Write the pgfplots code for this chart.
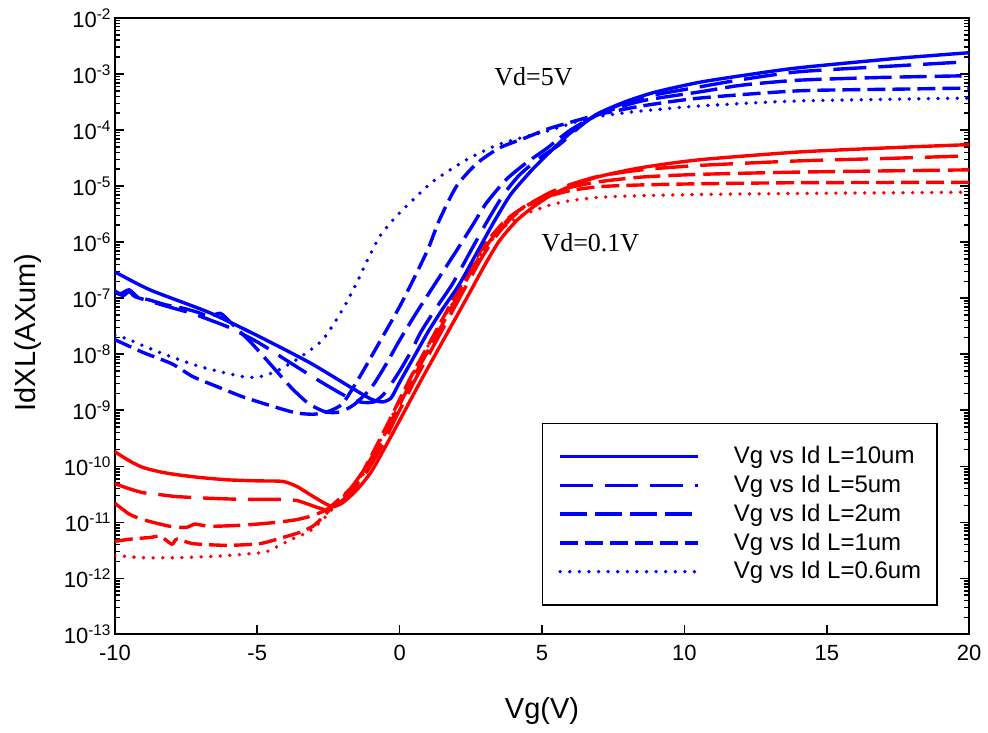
\documentclass[border=0pt]{standalone}
\usepackage{fontspec}
\setmainfont{Liberation Sans}
\newfontfamily\annotfont{Liberation Serif}
\usepackage{pgfplots}
\pgfplotsset{compat=1.18}

% line styles for the five channel lengths
\pgfplotsset{
  Lten/.style={line width=1.7pt},
  Lfive/.style={line width=1.7pt, dash pattern=on 16.5pt off 6pt},
  Ltwo/.style={line width=1.7pt, dash pattern=on 13.5pt off 4pt},
  Lone/.style={line width=1.7pt, dash pattern=on 9pt off 3.5pt},
  Lsix/.style={line width=1.9pt, line cap=round, dash pattern=on 0pt off 4.8pt},
}

\begin{document}
\begin{tikzpicture}
% page frame around the axis
\path (-57.5pt,-49pt) rectangle (436.5pt,317.5pt);
\begin{axis}[
  at={(0pt,0pt)}, anchor=south west,
  width=427.5pt, height=308.5pt, scale only axis,
  xmin=-10, xmax=20, ymin=1e-13, ymax=1e-2,
  ymode=log, log basis y=10,
  xtick={-10,-5,0,5,10,15,20},
  ytick={1e-13,1e-12,1e-11,1e-10,1e-9,1e-8,1e-7,1e-6,1e-5,1e-4,1e-3,1e-2},
  minor ytick={
    2e-13,3e-13,4e-13,5e-13,6e-13,7e-13,8e-13,9e-13,
    2e-12,3e-12,4e-12,5e-12,6e-12,7e-12,8e-12,9e-12,
    2e-11,3e-11,4e-11,5e-11,6e-11,7e-11,8e-11,9e-11,
    2e-10,3e-10,4e-10,5e-10,6e-10,7e-10,8e-10,9e-10,
    2e-9,3e-9,4e-9,5e-9,6e-9,7e-9,8e-9,9e-9,
    2e-8,3e-8,4e-8,5e-8,6e-8,7e-8,8e-8,9e-8,
    2e-7,3e-7,4e-7,5e-7,6e-7,7e-7,8e-7,9e-7,
    2e-6,3e-6,4e-6,5e-6,6e-6,7e-6,8e-6,9e-6,
    2e-5,3e-5,4e-5,5e-5,6e-5,7e-5,8e-5,9e-5,
    2e-4,3e-4,4e-4,5e-4,6e-4,7e-4,8e-4,9e-4,
    2e-3,3e-3,4e-3,5e-3,6e-3,7e-3,8e-3,9e-3},
  yticklabels={10\textsuperscript{-13},10\textsuperscript{-12},10\textsuperscript{-11},
    10\textsuperscript{-10},10\textsuperscript{-9},10\textsuperscript{-8},10\textsuperscript{-7},
    10\textsuperscript{-6},10\textsuperscript{-5},10\textsuperscript{-4},10\textsuperscript{-3},
    10\textsuperscript{-2}},
  xtick pos=bottom, ytick pos=both,
  tick align=inside,
  major tick length=4.5pt, minor tick length=2.8pt,
  tick style={draw=black, line width=0.8pt},
  axis line style={line width=1pt},
  /pgf/number format/assume math mode=true,
  xticklabel style={font=\fontsize{11}{13}\selectfont, yshift=-2pt},
  yticklabel style={font=\fontsize{11}{13}\selectfont, inner xsep=1.5pt},
  xlabel={Vg(V)}, ylabel={IdXL(AXum)},
  label style={font=\fontsize{14.5}{17}\selectfont},
  xlabel style={at={(axis description cs:0.5,-0.125)}, anchor=center},
  ylabel style={at={(axis description cs:-0.102,0.49)}, anchor=center},
  legend image code/.code={\draw[#1] (0pt,0pt) -- (69pt,0pt);},
  legend cell align=left,
  legend style={at={(axis description cs:0.4994,0.3436)}, anchor=north west,
    draw=black, line width=0.8pt, font=\fontsize{12}{14}\selectfont,
    inner xsep=8pt, inner ysep=11.5pt, row sep=4.2pt,
    nodes={inner sep=0pt},
    /tikz/every odd column/.style={column sep=17pt}},
]

% ---- Vd = 0.1 V ----
\addplot[red, Lten, smooth, tension=0.4, forget plot] coordinates {
(-10,1.82e-10) (-9.5,1.26e-10) (-9.02,9.55e-11) (-8.4,7.94e-11) (-7.82,7.08e-11)
(-7.0,6.31e-11) (-6.07,5.75e-11) (-5.0,5.50e-11) (-4.1,5.37e-11) (-3.61,4.37e-11)
(-3.16,3.16e-11) (-2.7,2.29e-11) (-2.35,1.91e-11) (-2.0,2.24e-11) (-1.5,3.80e-11)
(-1.0,7.94e-11) (-0.5,2.24e-10) (0,6.61e-10) (0.77,3.55e-9) (1.5,1.66e-8)
(2.3,8.91e-8) (3.0,3.98e-7) (3.5,1.05e-6) (4.1,2.40e-6) (4.67,4.17e-6)
(5.26,6.61e-6) (6.0,1.00e-5) (7.0,1.48e-5) (8.5,2.14e-5) (10.53,2.95e-5)
(14.04,4.07e-5) (17.5,4.90e-5) (20,5.50e-5)};

\addplot[red, Lfive, smooth, tension=0.4, forget plot] coordinates {
(-10,4.90e-11) (-9.5,3.98e-11) (-9.02,3.39e-11) (-8.5,3.16e-11) (-7.82,2.88e-11)
(-6.67,2.69e-11) (-5.51,2.57e-11) (-4.32,2.57e-11) (-3.61,2.45e-11) (-2.91,1.86e-11)
(-2.5,1.66e-11) (-2.1,2.24e-11) (-1.6,3.98e-11) (-1.1,8.91e-11) (-0.6,2.40e-10)
(-0.2,6.31e-10) (0.55,3.55e-9) (1.3,1.78e-8) (2.1,1.00e-7) (2.8,4.47e-7)
(3.3,1.12e-6) (3.9,2.63e-6) (4.5,4.57e-6) (5.26,7.59e-6) (6.0,1.07e-5)
(7.02,1.51e-5) (8.5,1.95e-5) (10.53,2.34e-5) (14.04,2.82e-5) (17.5,3.16e-5)
(20,3.47e-5)};

\addplot[red, Ltwo, smooth, tension=0.4, forget plot] coordinates {
(-10,2.19e-11) (-9.5,1.41e-11) (-9.02,1.12e-11) (-8.07,8.51e-12) (-7.47,8.13e-12)
(-7.2,9.33e-12) (-6.67,8.51e-12) (-5.51,8.91e-12) (-4.32,1.00e-11) (-3.61,1.12e-11)
(-3.05,1.32e-11) (-2.56,1.70e-11) (-2.2,2.40e-11) (-1.7,4.17e-11) (-1.2,9.55e-11)
(-0.7,2.51e-10) (-0.3,6.31e-10) (0.45,3.55e-9) (1.2,1.78e-8) (2.0,1.00e-7)
(2.7,4.47e-7) (3.2,1.10e-6) (3.8,2.51e-6) (4.4,4.37e-6) (5.26,7.24e-6)
(6.0,9.55e-6) (7.02,1.20e-5) (8.5,1.45e-5) (10.53,1.62e-5) (14.04,1.78e-5)
(20,1.95e-5)};

\addplot[red, Lone, smooth, tension=0.4, forget plot] coordinates {
(-10,4.57e-12) (-9.47,5.01e-12) (-8.77,5.37e-12) (-8.4,5.62e-12) (-8.0,4.07e-12)
(-7.82,5.01e-12) (-7.26,4.17e-12) (-6.07,3.89e-12) (-4.91,4.17e-12) (-4.1,5.37e-12)
(-3.51,6.61e-12) (-3.05,8.51e-12) (-2.7,1.23e-11) (-2.4,1.82e-11) (-2.0,2.82e-11)
(-1.5,5.25e-11) (-0.9,1.91e-10) (-0.4,6.03e-10) (0.35,3.55e-9) (1.1,1.78e-8)
(1.9,1.00e-7) (2.6,4.47e-7) (3.1,1.07e-6) (3.7,2.40e-6) (4.3,3.98e-6)
(5.26,6.61e-6) (6.0,8.32e-6) (7.0,9.77e-6) (8.5,1.05e-5) (10.5,1.10e-5)
(14,1.15e-5) (20,1.17e-5)};

\addplot[red, Lsix, smooth, tension=0.4, forget plot] coordinates {
(-10,2.57e-12) (-9.02,2.34e-12) (-7.82,2.34e-12) (-6.67,2.45e-12) (-5.51,2.69e-12)
(-4.67,3.02e-12) (-3.79,5.01e-12) (-3.16,6.92e-12) (-2.7,1.12e-11) (-2.21,2.09e-11)
(-1.8,3.31e-11) (-1.4,5.62e-11) (-0.9,1.70e-10) (-0.4,5.62e-10) (0.35,3.55e-9)
(1.1,1.74e-8) (1.9,8.91e-8) (2.6,3.80e-7) (3.1,8.91e-7) (3.7,1.91e-6)
(4.3,3.02e-6) (5.26,4.57e-6) (6.0,5.50e-6) (7.0,6.31e-6) (8.5,6.76e-6)
(10.5,7.08e-6) (14,7.41e-6) (20,7.76e-6)};

% ---- Vd = 5 V ----
\addplot[blue, Lten, smooth, tension=0.4] coordinates {
(-10,2.95e-7) (-8.77,1.41e-7) (-6.67,5.50e-8) (-4.91,2.04e-8) (-3.16,7.08e-9)
(-1.75,2.63e-9) (-1.0,1.58e-9) (-0.6,1.41e-9) (-0.3,1.66e-9) (0,3.16e-9)
(0.5,8.91e-9) (1.0,2.51e-8) (1.5,6.31e-8) (2.1,1.78e-7) (2.7,6.31e-7)
(3.3,2.24e-6) (3.9,7.08e-6) (4.67,2.00e-5) (5.3,4.17e-5) (6.0,8.91e-5)
(7.0,2.00e-4) (8.0,3.31e-4) (9.0,4.79e-4) (10.5,7.08e-4) (12,9.33e-4)
(14,1.29e-3) (17.5,1.91e-3) (20,2.40e-3)};
\addlegendentry{Vg vs Id L=10um}

\addplot[blue, Lfive, smooth, tension=0.4] coordinates {
(-10,1.26e-7) (-9.7,1.12e-7) (-9.5,1.32e-7) (-9.3,1.07e-7) (-8.8,8.91e-8)
(-8.0,6.76e-8) (-7.3,5.37e-8) (-6.6,3.98e-8) (-6.0,3.02e-8) (-5.0,1.66e-8)
(-4.0,7.94e-9) (-3.0,3.80e-9) (-2.0,1.91e-9) (-1.4,1.41e-9) (-0.9,1.41e-9)
(-0.5,2.09e-9) (0,5.01e-9) (0.4,1.12e-8) (0.75,2.51e-8) (1.25,6.31e-8)
(1.85,1.78e-7) (2.45,6.31e-7) (3.05,2.24e-6) (3.65,7.08e-6) (4.21,1.58e-5)
(4.91,3.16e-5) (5.61,5.50e-5) (6.3,1.12e-4) (7.0,2.00e-4) (8.5,3.80e-4)
(10.53,5.89e-4) (12,7.94e-4) (14.04,1.10e-3) (17.54,1.41e-3) (20,1.66e-3)};
\addlegendentry{Vg vs Id L=5um}

\addplot[blue, Ltwo, smooth, tension=0.4] coordinates {
(-10,1.35e-7) (-9.8,1.20e-7) (-9.5,1.41e-7) (-9.2,1.05e-7) (-8.8,9.33e-8)
(-8.2,7.59e-8) (-7.6,6.61e-8) (-7.1,5.62e-8) (-6.7,4.79e-8) (-6.3,5.37e-8)
(-6.0,3.98e-8) (-5.7,2.82e-8) (-5.2,1.58e-8) (-4.5,6.31e-9) (-3.8,2.51e-9)
(-3.2,1.32e-9) (-2.6,9.33e-10) (-2.1,9.33e-10) (-1.6,1.26e-9) (-1.0,2.51e-9)
(-0.5,6.31e-9) (0,1.78e-8) (0.6,5.62e-8) (1.3,2.00e-7) (2.0,7.08e-7)
(2.56,2.00e-6) (3.05,5.01e-6) (3.75,1.32e-5) (4.46,2.63e-5) (5.16,4.68e-5)
(6.0,1.00e-4) (7.0,1.91e-4) (8.5,3.31e-4) (10.53,4.79e-4) (12,6.31e-4)
(14,7.76e-4) (17,8.71e-4) (20,9.33e-4)};
\addlegendentry{Vg vs Id L=2um}

\addplot[blue, Lone, smooth, tension=0.4] coordinates {
(-10,1.82e-8) (-9.0,1.07e-8) (-8.0,6.76e-9) (-7.26,3.98e-9) (-6.4,2.63e-9)
(-5.51,1.74e-9) (-4.32,1.12e-9) (-3.6,8.91e-10) (-3.0,8.51e-10) (-2.5,9.55e-10)
(-2.0,1.32e-9) (-1.4,3.98e-9) (-0.7,1.66e-8) (0,7.08e-8) (0.5,2.24e-7)
(1.0,7.59e-7) (1.4,2.51e-6) (2.0,1.00e-5) (2.7,2.51e-5) (3.5,4.79e-5)
(4.46,7.41e-5) (5.26,1.07e-4) (6.56,1.66e-4) (7.0,1.91e-4) (8.5,2.69e-4)
(10.53,3.72e-4) (14,5.01e-4) (17.5,5.37e-4) (20,5.62e-4)};
\addlegendentry{Vg vs Id L=1um}

\addplot[blue, Lsix, smooth, tension=0.4] coordinates {
(-10,2.19e-8) (-9.5,1.82e-8) (-8.42,1.07e-8) (-7.02,6.03e-9) (-5.51,3.98e-9)
(-4.91,3.98e-9) (-4.32,5.01e-9) (-3.51,8.71e-9) (-2.7,1.82e-8) (-2.0,6.31e-8)
(-1.5,1.91e-7) (-1.16,4.47e-7) (-0.7,1.26e-6) (-0.14,2.82e-6) (0.4,5.25e-6)
(1.16,1.20e-5) (2.35,2.95e-5) (3.51,5.62e-5) (5.16,9.55e-5) (6.56,1.58e-4)
(7.5,1.91e-4) (8.5,2.19e-4) (10.53,2.69e-4) (14,3.31e-4) (20,3.72e-4)};
\addlegendentry{Vg vs Id L=0.6um}

\node[font=\annotfont\fontsize{13}{15}\selectfont] at (axis cs:4.70,9.06e-4) {Vd=5V};
\node[font=\annotfont\fontsize{13}{15}\selectfont] at (axis cs:6.70,9.8e-7) {Vd=0.1V};
\end{axis}
\end{tikzpicture}
\end{document}
